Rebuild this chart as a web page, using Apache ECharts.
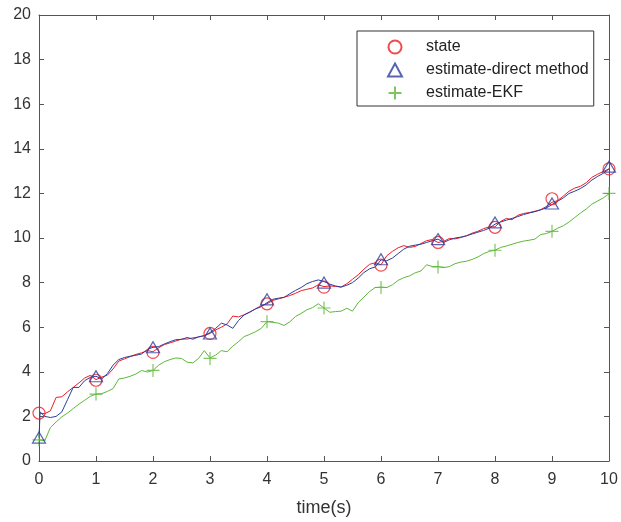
<!DOCTYPE html>
<html>
<head>
<meta charset="utf-8">
<script src="https://cdn.jsdelivr.net/npm/echarts@6/dist/echarts.min.js"></script>
<style>html,body{margin:0;padding:0;background:#fff;}#c{width:621px;height:522px;}</style>
</head>
<body>
<div id="c"></div>
<script>
var time = [0,0.02,0.1,0.2,0.3,0.4,0.5,0.6,0.7,0.8,0.9,1.0,1.1,1.2,1.3,1.4,1.5,1.6,1.7,1.8,1.9,2.0,2.1,2.2,2.3,2.4,2.5,2.6,2.7,2.8,2.9,3.0,3.1,3.2,3.3,3.4,3.5,3.6,3.7,3.8,3.9,4.0,4.1,4.2,4.3,4.4,4.5,4.6,4.7,4.8,4.9,5.0,5.1,5.2,5.3,5.4,5.5,5.6,5.7,5.8,5.9,6.0,6.1,6.2,6.3,6.4,6.5,6.6,6.7,6.8,6.9,7.0,7.1,7.2,7.3,7.4,7.5,7.6,7.7,7.8,7.9,8.0,8.1,8.2,8.3,8.4,8.5,8.6,8.7,8.8,8.9,9.0,9.1,9.2,9.3,9.4,9.5,9.6,9.7,9.8,9.9,10.0];

var stateLine = [2.15,2.15,2.12,2.25,2.85,2.88,3.1,3.3,3.5,3.72,3.84,3.65,3.76,3.85,4.13,4.48,4.58,4.68,4.78,4.85,4.95,4.9,5.08,5.22,5.3,5.38,5.47,5.47,5.52,5.56,5.62,5.72,5.88,6.0,6.15,6.5,6.46,6.56,6.68,6.83,6.96,7.05,7.2,7.27,7.34,7.42,7.52,7.64,7.7,7.76,7.9,7.82,7.85,7.83,7.8,7.95,8.15,8.35,8.6,8.82,8.89,8.8,9.2,9.4,9.56,9.66,9.58,9.62,9.75,9.88,9.93,9.8,9.85,9.98,9.96,10.02,10.1,10.22,10.3,10.42,10.5,10.5,10.74,10.88,10.82,11.02,11.1,11.14,11.2,11.27,11.41,11.6,11.68,11.88,12.1,12.24,12.32,12.48,12.72,12.86,12.98,13.1];

var directLine = [1.05,2.2,2.0,1.95,2.0,2.2,2.75,3.3,3.3,3.6,3.75,3.8,3.68,3.92,4.3,4.55,4.64,4.7,4.74,4.8,5.0,5.1,5.13,5.25,5.35,5.44,5.45,5.54,5.46,5.57,5.62,5.76,5.95,6.18,6.1,5.95,6.3,6.55,6.68,6.82,6.92,7.1,7.25,7.3,7.34,7.5,7.65,7.78,7.95,8.05,8.12,8.05,7.93,7.85,7.8,7.88,8.0,8.2,8.45,8.62,8.7,9.02,8.98,9.1,9.3,9.5,9.63,9.68,9.72,9.8,9.88,9.95,9.8,9.92,10.0,10.04,10.1,10.18,10.26,10.34,10.44,10.62,10.72,10.8,10.88,10.96,11.05,11.12,11.18,11.26,11.35,11.5,11.65,11.8,12.0,12.1,12.22,12.38,12.6,12.76,12.9,13.1];

var ekfLine = [0.95,0.9,0.9,1.5,1.75,1.98,2.15,2.35,2.55,2.72,2.9,3.0,3.02,3.12,3.25,3.68,3.72,3.8,3.9,4.06,3.99,4.06,4.3,4.45,4.55,4.62,4.6,4.43,4.4,4.6,4.95,4.62,4.75,4.95,4.9,5.15,5.35,5.58,5.68,5.8,5.95,6.25,6.22,6.18,6.08,6.24,6.48,6.62,6.78,6.88,7.05,6.86,6.67,6.7,6.72,6.85,6.72,7.1,7.35,7.6,7.78,7.8,7.78,7.9,8.1,8.22,8.3,8.44,8.52,8.8,8.72,8.72,8.67,8.72,8.85,8.92,8.96,9.04,9.15,9.3,9.4,9.45,9.58,9.64,9.72,9.8,9.86,9.9,9.95,10.15,10.2,10.3,10.44,10.55,10.72,10.92,11.12,11.3,11.52,11.66,11.8,11.98];

var markerTime = [0,1,2,3,4,5,6,7,8,9,10];
var stateMarks = [2.15,3.62,4.87,5.72,7.05,7.8,8.78,9.8,10.48,11.76,13.1];
var directMarks = [1.05,3.8,5.1,5.72,7.25,8.0,9.05,9.95,10.7,11.55,13.2];
var ekfMarks = [0.95,3.0,4.06,4.6,6.25,6.86,7.78,8.7,9.45,10.3,12.0];

var names = ['state','estimate-direct method','estimate-EKF'];
var xTicks = {min:0, max:10, interval:1};
var yTicks = {min:0, max:20, interval:2};
var xTitle = 'time(s)';

var RED = '#ee1c24', BLUE = '#2a3f9e', GREEN = '#5db83a';
function pairs(t, v){ return t.map(function(x,i){return [x, v[i]];}); }

var axisColor = '#555';
var labelColor = '#333';
var font = 'Liberation Sans, Arial, Helvetica, sans-serif';

function xAxisDef(pos, show){
  return {type:'value', position:pos, min:xTicks.min, max:xTicks.max, interval:xTicks.interval,
    axisLine:{show:true, onZero:false, lineStyle:{color:axisColor, width:1}},
    axisTick:{show:true, inside:true, length:5, lineStyle:{color:axisColor}},
    axisLabel:{show:show, color:labelColor, fontSize:16, fontFamily:font, margin:11},
    splitLine:{show:false},
    name: show ? xTitle : '', nameLocation:'middle', nameGap:38,
    nameTextStyle:{color:labelColor, fontSize:18, fontFamily:font}};
}
function yAxisDef(pos, show){
  return {type:'value', position:pos, min:yTicks.min, max:yTicks.max, interval:yTicks.interval,
    axisLine:{show:true, onZero:false, lineStyle:{color:axisColor, width:1}},
    axisTick:{show:true, inside:true, length:5, lineStyle:{color:axisColor}},
    axisLabel:{show:show, color:labelColor, fontSize:16, fontFamily:font, margin:8},
    splitLine:{show:false}};
}

var plusPath = 'path://M0,5 L10,5 M5,0 L5,10';

var option = {
  animation:false,
  backgroundColor:'#fff',
  grid:{left:39, right:12, top:15, bottom:57, containLabel:false},
  xAxis:[xAxisDef('bottom', true), xAxisDef('top', false)],
  yAxis:[yAxisDef('left', true), yAxisDef('right', false)],
  legend:{
    data:names, orient:'vertical', left:357, top:31,
    padding:[8,5,5,30], itemGap:7, itemWidth:14, itemHeight:13,
    borderColor:'#333', borderWidth:1, backgroundColor:'#fff',
    textStyle:{color:'#222', fontSize:16, fontFamily:font, padding:[0,0,0,19], lineHeight:16}
  },
  series:[
    {name:'state-line', type:'line', data:pairs(time,stateLine), showSymbol:false, lineStyle:{color:RED, width:1}, itemStyle:{color:RED}, z:3},
    {name:'direct-line', type:'line', data:pairs(time,directLine), showSymbol:false, lineStyle:{color:BLUE, width:1}, itemStyle:{color:BLUE}, z:4},
    {name:'ekf-line', type:'line', data:pairs(time,ekfLine), showSymbol:false, lineStyle:{color:GREEN, width:1}, itemStyle:{color:GREEN}, z:2},
    {name:names[0], type:'scatter', data:pairs(markerTime,stateMarks), symbol:'circle', symbolSize:12,
      itemStyle:{color:'transparent', borderColor:RED, borderWidth:1.2}, z:5},
    {name:names[1], type:'scatter', data:pairs(markerTime,directMarks), symbol:'triangle', symbolSize:[13,11],
      itemStyle:{color:'transparent', borderColor:BLUE, borderWidth:1.2}, z:6},
    {name:names[2], type:'scatter', data:pairs(markerTime,ekfMarks), symbol:plusPath, symbolSize:13,
      itemStyle:{color:'transparent', borderColor:GREEN, borderWidth:1.2}, z:5}
  ]
};
var chart = echarts.init(document.getElementById('c'), null, {renderer:'canvas'});
chart.setOption(option);
</script>
</body>
</html>
